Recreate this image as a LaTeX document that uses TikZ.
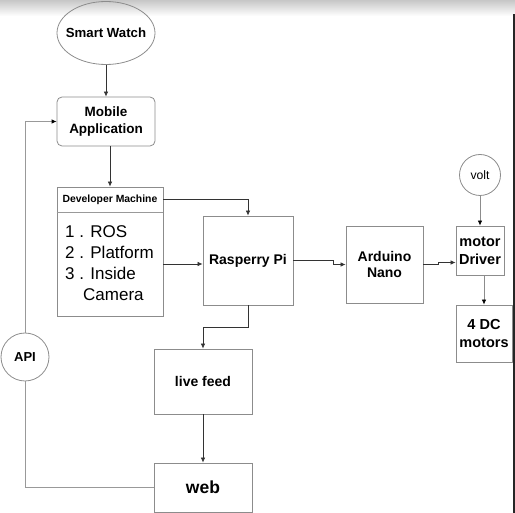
\documentclass[tikz,border=0pt]{standalone}
\usepackage{fontspec}
\setmainfont{Liberation Sans}
\usetikzlibrary{arrows.meta,shapes.geometric}

\begin{document}
\begin{tikzpicture}[x=1pt,y=-1pt,
  box/.style={draw=black!45,line width=.8pt,inner sep=0pt,align=center,font=\bfseries\fontsize{14}{16.5}\selectfont},
  link/.style={draw=black!80,line width=.7pt,-{Latex[length=5pt,width=4.5pt]}},
  glink/.style={draw=black!45,line width=.8pt,-{Latex[length=5pt,width=4.5pt,color=black]}},
  wire/.style={draw=black!40,line width=.8pt}]
% Screenshot frame
\useasboundingbox (0,0) rectangle (515,513);
\shade[top color=black!22,bottom color=white] (0,0) rectangle (515,16);
\fill[black!85] (512.8,14) rectangle (515,513);
% Phone side
\node[box,ellipse,minimum width=98,minimum height=63,label={[font=\bfseries\fontsize{13.2}{15}\selectfont]center:Smart Watch}] (watch) at (106,33) {};
\node[box,rounded corners=5pt,minimum width=98,minimum height=49,font=\bfseries\fontsize{13.5}{16.5}\selectfont] (mobile) at (106,121.5) {Mobile\\Application};
% Developer machine with its list
\node[box,minimum width=106,minimum height=129] (devm) at (110,251.5) {};
\node[font=\bfseries\fontsize{10.4}{12}\selectfont,inner sep=0pt] (devhead) at (110,199.5) {Developer Machine};
\draw[wire] (devm.west |- 0,212) -- (devm.east |- 0,212);
\node[anchor=north west,align=left,inner sep=0pt,font=\fontsize{17}{21}\selectfont] (devlist) at (65,225) {1 . ROS\\2 . Platform\\3 . Inside\\\hspace{18pt}Camera};
% Boards and motors
\node[box,minimum width=90,minimum height=89] (rpi) at (248,260.5) {Rasperry Pi};
\node[box,minimum width=77,minimum height=77] (nano) at (384.5,264.5) {Arduino\\Nano};
\node[box,circle,minimum size=41,font=\fontsize{12.2}{14}\selectfont] (volt) at (480,175) {volt};
\node[box,minimum width=48,minimum height=49,font=\bfseries\fontsize{14.5}{18}\selectfont] (driver) at (480,250.5) {motor\\Driver};
\node[box,minimum width=56,minimum height=57,font=\bfseries\fontsize{14.5}{18}\selectfont] (motors) at (484,333.5) {4 DC\\motors};
% Feed and web
\node[box,minimum width=98,minimum height=65] (feed) at (203,381.5) {live feed};
\node[box,minimum width=98,minimum height=49,font=\bfseries\fontsize{17.5}{20}\selectfont] (web) at (203,487.5) {web};
\node[box,circle,minimum size=48,font=\bfseries\fontsize{13}{15}\selectfont] (api) at (25,357) {API};
% Arrows
\draw[link] (watch.south) -- (mobile.north);
\draw[link] (mobile.south -| devm.north) -- (devm.north);
\draw[link] (devm.east |- devhead) -| (rpi.north);
\draw[link] (devm.east |- 0,264) -- (rpi.west |- 0,264);
\draw[link] (rpi.east) -- ++(40,0) |- (nano.west);
\draw[link] (nano.east) -- ++(15,0) |- ([yshift=-12pt]driver.west);
\draw[glink] (volt.south) -- (driver.north);
\draw[glink] (driver.south -| motors.north) -- (motors.north);
\draw[link] (rpi.south) -- ++(0,22) -| (feed.north);
\draw[link] (feed.south) -- (web.north);
\draw[wire] (web.west) -| (api.south);
\draw[wire,-{Latex[length=5pt,width=4.5pt,color=black]}] (api.north) |- (mobile.west);
\end{tikzpicture}
\end{document}
